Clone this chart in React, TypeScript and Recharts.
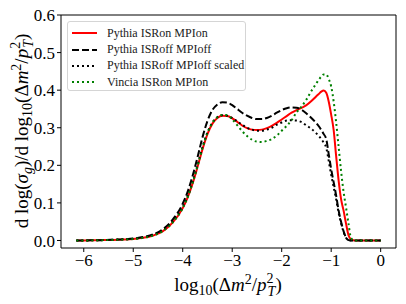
import React from 'react';
import { LineChart, Line, XAxis, YAxis, ReferenceArea, Legend } from 'recharts';

const xs = [
  -6.15, -6.0, -5.8, -5.6, -5.4, -5.2, -5.0, -4.8, -4.6, -4.4, -4.2, -4.0, -3.9, -3.8, -3.7,
  -3.6, -3.5, -3.4, -3.3, -3.2, -3.1, -3.0, -2.9, -2.8, -2.7, -2.6, -2.5, -2.4, -2.3, -2.2,
  -2.1, -2.0, -1.9, -1.8, -1.7, -1.6, -1.5, -1.4, -1.3, -1.25, -1.2, -1.15, -1.1, -1.05, -1.0,
  -0.95, -0.9, -0.85, -0.8, -0.75, -0.7, -0.65, -0.6, -0.55, -0.5, -0.4, -0.3, -0.2, -0.1, 0,
];

// Pythia ISRon MPIon
const pythiaOn = [
  0, 0, 0.0005, 0.001, 0.0015, 0.0025, 0.004, 0.007, 0.013, 0.025, 0.048, 0.086, 0.115, 0.152, 0.196,
  0.243, 0.283, 0.311, 0.326, 0.332, 0.331, 0.325, 0.316, 0.306, 0.299, 0.295, 0.294, 0.295, 0.299, 0.305,
  0.313, 0.322, 0.331, 0.34, 0.347, 0.353, 0.36, 0.371, 0.384, 0.39, 0.396, 0.399, 0.393, 0.37, 0.335,
  0.294, 0.225, 0.16, 0.11, 0.08, 0.045, 0.014, 0.003, 0.0005, 0, 0, 0, 0, 0, 0,
];

// Pythia ISRoff MPIoff
const pythiaOff = [
  0, 0, 0.0005, 0.001, 0.002, 0.003, 0.005, 0.009, 0.016, 0.03, 0.056, 0.098, 0.13, 0.172, 0.222,
  0.275, 0.318, 0.347, 0.362, 0.368, 0.367, 0.36, 0.35, 0.34, 0.332, 0.326, 0.323, 0.323, 0.326, 0.332,
  0.34, 0.347, 0.352, 0.354, 0.353, 0.348, 0.338, 0.326, 0.312, 0.304, 0.294, 0.283, 0.27, 0.23, 0.19,
  0.155, 0.12, 0.08, 0.05, 0.025, 0.008, 0.001, 0, 0, 0, 0, 0, 0, 0, 0,
];

// Pythia ISRoff MPIoff scaled
const pythiaOffScaled = [
  0, 0, 0.0005, 0.001, 0.002, 0.003, 0.0045, 0.008, 0.0145, 0.027, 0.051, 0.089, 0.118, 0.156, 0.201,
  0.249, 0.288, 0.314, 0.328, 0.333, 0.332, 0.326, 0.317, 0.308, 0.3, 0.295, 0.292, 0.292, 0.295, 0.3,
  0.308, 0.314, 0.319, 0.32, 0.319, 0.315, 0.306, 0.297, 0.285, 0.278, 0.27, 0.26, 0.247, 0.212, 0.175,
  0.142, 0.11, 0.074, 0.046, 0.023, 0.007, 0.001, 0, 0, 0, 0, 0, 0, 0, 0,
];

// Vincia ISRon MPIon
const vinciaOn = [
  0, 0, 0.0005, 0.001, 0.0015, 0.0025, 0.004, 0.007, 0.013, 0.025, 0.048, 0.086, 0.115, 0.153, 0.198,
  0.246, 0.286, 0.313, 0.328, 0.334, 0.333, 0.322, 0.307, 0.291, 0.278, 0.268, 0.263, 0.262, 0.265, 0.27,
  0.279, 0.292, 0.305, 0.32, 0.341, 0.356, 0.375, 0.398, 0.418, 0.428, 0.436, 0.442, 0.442, 0.43, 0.41,
  0.37, 0.315, 0.25, 0.185, 0.13, 0.088, 0.045, 0.007, 0.001, 0, 0, 0, 0, 0, 0,
];

const xTicks = [-6, -5, -4, -3, -2, -1, 0];
const yTicks = [0, 0.1, 0.2, 0.3, 0.4, 0.5, 0.6];

const series = [
  { key: 'pythiaOn', name: 'Pythia ISRon MPIon', color: '#ff0000', dash: undefined },
  { key: 'pythiaOff', name: 'Pythia ISRoff MPIoff', color: '#000000', dash: '7 3' },
  { key: 'pythiaOffScaled', name: 'Pythia ISRoff MPIoff scaled', color: '#000000', dash: '2 3' },
  { key: 'vinciaOn', name: 'Vincia ISRon MPIon', color: '#008000', dash: '2 3' },
];

const data = xs.map((x, i) => ({
  x,
  pythiaOn: pythiaOn[i],
  pythiaOff: pythiaOff[i],
  pythiaOffScaled: pythiaOffScaled[i],
  vinciaOn: vinciaOn[i],
}));

const FONT = 'Liberation Serif';
const XMIN = -6.46;
const XMAX = 0.31;
const YMIN = -0.02;
const YMAX = 0.6;

const fmtX = (v: number) => (v < 0 ? '\u2212' + Math.abs(v) : String(v));

function LegendBox() {
  return (
    <div
      style={{
        width: 179,
        height: 70,
        boxSizing: 'border-box',
        border: '1px solid #d5d5d5',
        borderRadius: 3,
        background: 'rgba(255,255,255,0.8)',
        padding: '3px 0 0 3px',
        fontFamily: FONT,
        fontSize: 12,
        color: '#222',
      }}
    >
      {series.map(s => (
        <div key={s.key} style={{ display: 'flex', alignItems: 'center', height: 16.4 }}>
          <svg width={28} height={6} style={{ marginRight: 8 }}>
            <line x1={1} y1={3} x2={26} y2={3} stroke={s.color} strokeWidth={2} strokeDasharray={s.dash} />
          </svg>
          <span style={{ whiteSpace: 'nowrap' }}>{s.name}</span>
        </div>
      ))}
    </div>
  );
}

export default function App() {
  return (
    <div style={{ position: 'absolute', left: 0, top: 0, width: 406, height: 304, background: '#fff' }}>
      <LineChart width={406} height={304} data={data} margin={{ top: 15, right: 10, left: 0, bottom: 0 }}>
        <XAxis
          dataKey="x"
          type="number"
          domain={[XMIN, XMAX]}
          ticks={xTicks}
          tickFormatter={fmtX}
          allowDataOverflow
          height={56}
          axisLine={false}
          tickSize={4}
          tickLine={{ stroke: '#000' }}
          tick={{ fill: '#000', fontSize: 17, fontFamily: FONT }}
          tickMargin={2}
        />
        <YAxis
          type="number"
          domain={[YMIN, YMAX]}
          ticks={yTicks}
          tickFormatter={(v: number) => v.toFixed(1)}
          allowDataOverflow
          width={61}
          axisLine={false}
          tickSize={4}
          tickLine={{ stroke: '#000' }}
          tick={{ fill: '#000', fontSize: 17, fontFamily: FONT }}
          tickMargin={2}
        />
        <ReferenceArea
          x1={XMIN}
          x2={XMAX}
          y1={YMIN}
          y2={YMAX}
          fill="none"
          stroke="#000"
          strokeWidth={1}
          ifOverflow="visible"
        />
        {series.map(s => (
          <Line
            key={s.key}
            dataKey={s.key}
            name={s.name}
            type="monotone"
            stroke={s.color}
            strokeWidth={2}
            strokeDasharray={s.dash}
            dot={false}
            activeDot={false}
            isAnimationActive={false}
          />
        ))}
        <Legend
          layout="vertical"
          align="center"
          verticalAlign="middle"
          content={() => <LegendBox />}
          wrapperStyle={{ position: 'absolute', left: 67, top: 21, width: 179, height: 70 }}
        />
        <text x={228} y={291} textAnchor="middle" fontSize={19} fontFamily={FONT} fill="#000">
          <tspan>log</tspan>
          <tspan dy={4} fontSize={14}>10</tspan>
          <tspan dy={-4}>(Δ</tspan>
          <tspan fontStyle="italic">m</tspan>
          <tspan dy={-7} fontSize={14}>2</tspan>
          <tspan dy={7}>/</tspan>
          <tspan fontStyle="italic">p</tspan>
          <tspan dy={-8} fontSize={14}>2</tspan>
          <tspan dx={-6} dy={13} fontSize={14} fontStyle="italic">T</tspan>
          <tspan dy={-5}>)</tspan>
        </text>
        <text transform="translate(28,131) rotate(-90)" textAnchor="middle" fontSize={19} fontFamily={FONT} fill="#000">
          <tspan>d log(</tspan>
          <tspan fontStyle="italic">σ</tspan>
          <tspan dy={4} fontSize={14} fontStyle="italic">g</tspan>
          <tspan dy={-4}>)/d log</tspan>
          <tspan dy={4} fontSize={14}>10</tspan>
          <tspan dy={-4}>(Δ</tspan>
          <tspan fontStyle="italic">m</tspan>
          <tspan dy={-7} fontSize={14}>2</tspan>
          <tspan dy={7}>/</tspan>
          <tspan fontStyle="italic">p</tspan>
          <tspan dy={-8} fontSize={14}>2</tspan>
          <tspan dx={-6} dy={13} fontSize={14} fontStyle="italic">T</tspan>
          <tspan dy={-5}>)</tspan>
        </text>
      </LineChart>
    </div>
  );
}
